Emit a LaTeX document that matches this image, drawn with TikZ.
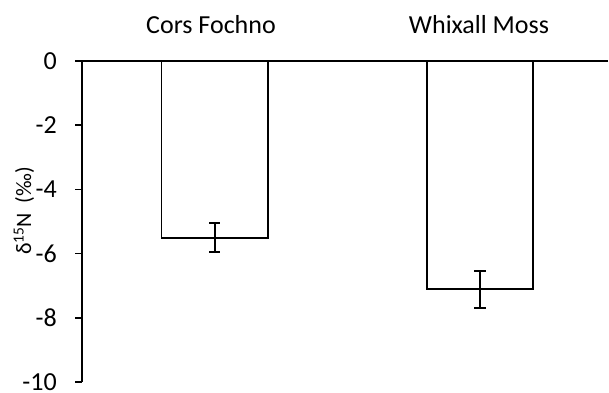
\documentclass[tikz,border=0pt]{standalone}
\usepackage{fontspec}
\setmainfont{Carlito}
\begin{document}
\begin{tikzpicture}[x=1pt,y=-1pt,
  axisline/.style={line width=1.7pt,black},
  barbox/.style={draw=black,fill=white,line width=1.8pt},
  errbar/.style={line width=1.8pt,black},
  ticklabel/.style={anchor=east,inner sep=0pt,font=\fontsize{26}{30}\selectfont},
  catlabel/.style={anchor=base,inner sep=0pt,font=\fontsize{26}{30}\selectfont}]
\useasboundingbox (0,0) rectangle (609,392);
% bars
\draw[barbox] (161.5,61) rectangle (267.7,237.6);
\draw[barbox] (427,61) rectangle (533,288.9);
% error bars
\coordinate (e1t) at (214.6,223);
\coordinate (e1b) at (214.6,252);
\coordinate (e2t) at (480,271);
\coordinate (e2b) at (480,308);
\draw[errbar] (e1t) -- (e1b);
\draw[errbar] ([xshift=-5.5pt]e1t) -- ([xshift=5.5pt]e1t);
\draw[errbar] ([xshift=-5.5pt]e1b) -- ([xshift=5.5pt]e1b);
\draw[errbar] (e2t) -- (e2b);
\draw[errbar] ([xshift=-6pt]e2t) -- ([xshift=6pt]e2t);
\draw[errbar] ([xshift=-6pt]e2b) -- ([xshift=6pt]e2b);
% axes
\coordinate (o) at (82,61);
\coordinate (xend) at (608,61);
\coordinate (ybot) at (82,382);
\draw[axisline] (xend) -- (o) -- (ybot);
\foreach \v/\t in {0/0,2/-2,4/-4,6/-6,8/-8,10/-10}{
  \draw[axisline] (75,61+32.1*\v) -- (82,61+32.1*\v);
  \node[ticklabel] (tl\v) at (57,61+32.1*\v) {\t};
}
% labels
\node[catlabel] (c1) at (211,33.5) {Cors Fochno};
\node[catlabel] (c2) at (479,33.5) {Whixall Moss};
\node[rotate=90,inner sep=0pt,font=\fontsize{22}{26}\selectfont] (yl) at (24,211) {δ\textsuperscript{15}N\ \ (‰)};
\end{tikzpicture}
\end{document}
